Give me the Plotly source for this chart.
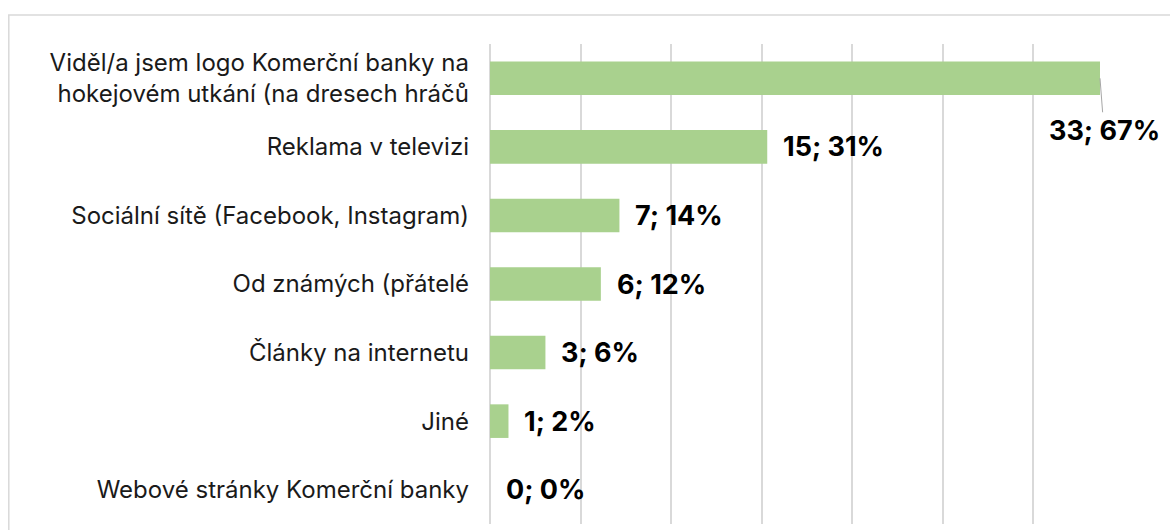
import plotly.graph_objects as go

categories = [
    "Viděl/a jsem logo Komerční banky na<br>hokejovém utkání (na dresech hráčů",
    "Reklama v televizi",
    "Sociální sítě (Facebook, Instagram)",
    "Od známých (přátelé",
    "Články na internetu",
    "Jiné",
    "Webové stránky Komerční banky",
]
counts = [33, 15, 7, 6, 3, 1, 0]
percents = [67.35, 30.61, 14.29, 12.24, 6.12, 2.04, 0.0]
pct_labels = ["67%", "31%", "14%", "12%", "6%", "2%", "0%"]

BAR = "#a9d18e"
GRID = "#d9d9d9"

fig = go.Figure()
fig.add_trace(go.Bar(
    x=percents, y=categories, orientation="h",
    marker=dict(color=BAR, line=dict(width=0)),
    hoverinfo="skip",
))

annotations = []
for i, (c, p, lab) in enumerate(zip(counts, percents, pct_labels)):
    text = f"<b>{c}; {lab}</b>"
    if i == 0:
        annotations.append(dict(
            x=p, y=categories[i], xref="x", yref="y", text=text,
            showarrow=True, arrowhead=0, arrowwidth=1, arrowcolor="#a6a6a6",
            ax=4, ay=52, font=dict(family="Inter", size=27, color="#000000"),
        ))
    else:
        annotations.append(dict(
            x=p, y=categories[i], xref="x", yref="y", text=text,
            showarrow=False, xanchor="left", yanchor="middle", xshift=14,
            font=dict(family="Inter", size=27, color="#000000"),
        ))

fig.update_layout(
    width=1170, height=530,
    margin=dict(l=490, r=46, t=44, b=6),
    paper_bgcolor="white", plot_bgcolor="white",
    showlegend=False,
    bargap=0.51,
    font=dict(family="Inter", size=24, color="#000000"),
    annotations=annotations,
    shapes=[dict(type="rect", xref="paper", yref="paper",
                 x0=-0.759, x1=2, y0=-1, y1=1.0604,
                 line=dict(color=GRID, width=1.5), fillcolor="rgba(0,0,0,0)",
                 layer="below")],
    xaxis=dict(range=[0, 70], autorange=False, dtick=10, showgrid=True, gridcolor=GRID, gridwidth=1.5,
               zeroline=True, zerolinecolor=GRID, zerolinewidth=1.5,
               showticklabels=False, ticks="", showline=False, fixedrange=True),
    yaxis=dict(range=[6.5, -0.5], autorange=False, showgrid=False, zeroline=False, ticks="",
               ticklabelstandoff=20,
               tickfont=dict(family="Inter", size=24, color="#1a1a1a"),
               fixedrange=True),
)

fig.write_html("out.html", post_script="document.body.style.margin='0';",
               config={"displayModeBar": False})
